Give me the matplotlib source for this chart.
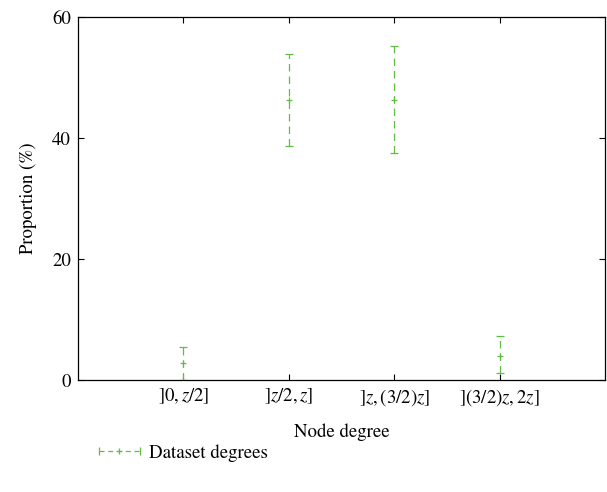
import matplotlib.pyplot as plt
from matplotlib.legend_handler import HandlerBase
from matplotlib.lines import Line2D

categories = [r'$]0, z/2]$', r'$]z/2, z]$', r'$]z, (3/2)z]$', r'$](3/2)z, 2z]$']
means = [2.8, 46.3, 46.3, 4.0]
lower = [0.0, 38.7, 37.5, 1.1]
upper = [5.5, 53.9, 55.2, 7.3]

plt.rcParams['font.family'] = ['STIXGeneral', 'DejaVu Serif']
plt.rcParams['mathtext.fontset'] = 'stix'

GREEN = '#62bd45'


class HorizErrHandler(HandlerBase):
    # legend key drawn as a horizontal error bar: |- + -|
    def create_artists(self, legend, orig_handle, xdescent, ydescent,
                       width, height, fontsize, trans):
        y = height / 2 - ydescent
        x0, x1 = -xdescent, width - xdescent
        line = Line2D([x0, x1], [y, y], color=GREEN, lw=0.9,
                      ls=(0, (4, 3)), transform=trans)
        caps = Line2D([x0, x1], [y, y], ls='none', marker='|', ms=6,
                      mew=0.9, color=GREEN, transform=trans)
        mid = Line2D([(x0 + x1) / 2], [y], ls='none', marker='+', ms=5,
                     mew=0.9, color=GREEN, transform=trans)
        return [line, caps, mid]


def draw_graph():
    fig = plt.figure(figsize=(6.07, 4.92), dpi=100)
    ax = fig.add_axes([0.1285, 0.2276, 0.8685, 0.7378])
    xs = list(range(1, len(means) + 1))
    yerr = [[m - lo for m, lo in zip(means, lower)],
            [hi - m for m, hi in zip(means, upper)]]
    eb = ax.errorbar(xs, means, yerr=yerr, fmt='+', color=GREEN, ecolor=GREEN,
                     elinewidth=0.9, capsize=3, capthick=0.9, markersize=5,
                     mew=0.9, label='Dataset degrees')
    for lc in eb[2]:
        lc.set_linestyle((0, (6, 4)))

    ax.set_xlim(0, 5)
    ax.set_ylim(0, 60)
    ax.set_xticks(xs)
    ax.set_xticklabels(categories)
    ax.set_yticks([0, 20, 40, 60])
    ax.tick_params(direction='in', top=True, right=True, length=4,
                   labelsize=13.5, width=0.8, pad=5)
    for s in ax.spines.values():
        s.set_linewidth(0.9)
    ax.set_xlabel('Node degree', fontsize=13.5, labelpad=11)
    ax.set_ylabel('Proportion (%)', fontsize=13.5, labelpad=11)

    fig.legend([eb], ['Dataset degrees'], loc='lower left',
               bbox_to_anchor=(0.135, 0.027), frameon=False, fontsize=13.5,
               handlelength=2.2, handletextpad=0.45,
               handler_map={type(eb): HorizErrHandler()})
    fig.savefig('out.png')


if __name__ == '__main__':
    draw_graph()
